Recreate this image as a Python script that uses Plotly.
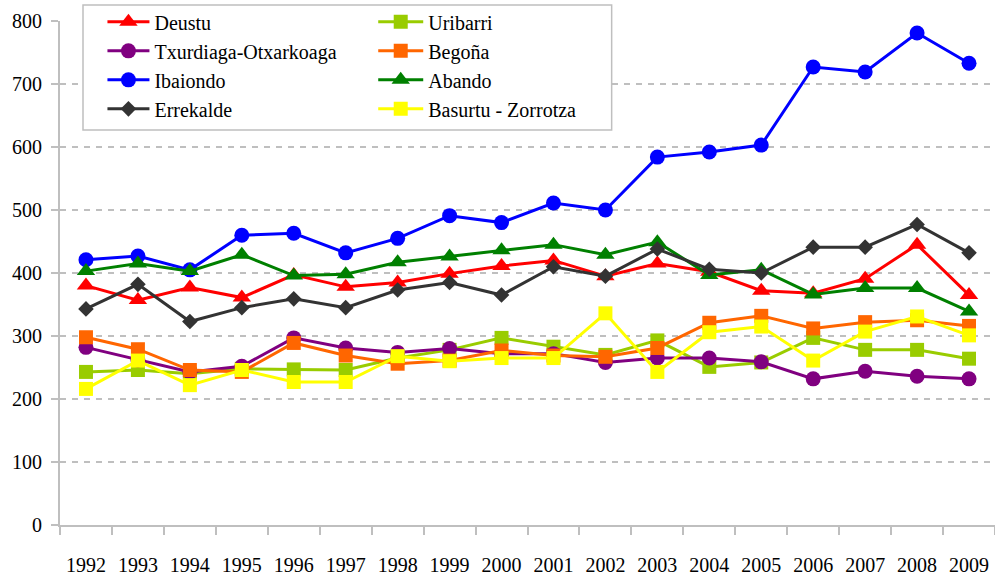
import plotly.graph_objects as go

years = [str(y) for y in range(1992, 2010)]

deustu = [380, 357, 377, 361, 397, 378, 385, 399, 411, 420, 395, 415, 402, 372, 368, 391, 445, 365]
uribarri = [243, 246, 240, 248, 247, 246, 265, 278, 297, 283, 270, 293, 251, 258, 297, 278, 278, 264]
txurdiaga = [282, 262, 243, 252, 297, 281, 274, 280, 272, 272, 258, 265, 265, 259, 232, 244, 236, 232]
begona = [298, 279, 246, 243, 289, 269, 256, 261, 277, 269, 267, 281, 321, 332, 312, 322, 325, 316]
ibaiondo = [421, 427, 405, 460, 463, 432, 455, 491, 480, 511, 500, 584, 592, 603, 727, 719, 781, 733]
abando = [403, 415, 403, 429, 396, 398, 417, 426, 436, 445, 429, 449, 397, 405, 366, 376, 376, 339]
errekalde = [343, 382, 323, 345, 359, 345, 373, 385, 365, 410, 395, 438, 406, 400, 441, 441, 477, 432]
basurtu = [216, 261, 222, 246, 227, 227, 268, 260, 265, 265, 336, 243, 306, 315, 261, 307, 331, 301]

series = [
    ("Deustu", deustu, "#FF0000", "triangle-up", 16, "legend"),
    ("Uribarri", uribarri, "#99CC00", "square", 14, "legend2"),
    ("Txurdiaga-Otxarkoaga", txurdiaga, "#800080", "circle", 15, "legend"),
    ("Begoña", begona, "#FF6600", "square", 14, "legend2"),
    ("Ibaiondo", ibaiondo, "#0000FF", "circle", 15, "legend"),
    ("Abando", abando, "#008000", "triangle-up", 16, "legend2"),
    ("Errekalde", errekalde, "#333333", "diamond", 12, "legend"),
    ("Basurtu - Zorrotza", basurtu, "#FFFF00", "square", 14, "legend2"),
]

FONT = "Liberation Serif, Times New Roman, serif"
fig = go.Figure()
for name, vals, color, sym, size, leg in series:
    fig.add_trace(go.Scatter(
        x=years, y=vals, name=name, mode="lines+markers",
        line=dict(color=color, width=3),
        marker=dict(color=color, symbol=sym, size=size),
        legend=leg, legendgroup=name,
    ))

legend_common = dict(
    xanchor="left", yanchor="top", bgcolor="rgba(0,0,0,0)", borderwidth=0,
    font=dict(family=FONT, size=20, color="black"), tracegroupgap=0,
    orientation="v",
)

fig.update_layout(
    width=995, height=575,
    margin=dict(l=60, r=0, t=21, b=50, autoexpand=False),
    paper_bgcolor="white", plot_bgcolor="white",
    font=dict(family=FONT, size=20, color="black"),
    showlegend=True,
    legend=dict(x=0.0454, y=1.037, itemwidth=42, **legend_common),
    legend2=dict(x=0.335, y=1.037, itemwidth=45, **legend_common),
    xaxis=dict(
        type="category", tickson="boundaries", ticks="outside", ticklen=8,
        range=[-0.5, len(years) - 0.5],
        tickcolor="#BFBFBF", tickwidth=1.5, showgrid=False, tickangle=0,
        showline=True, linecolor="#BFBFBF", linewidth=2,
        tickfont=dict(family=FONT, size=20, color="black"),
        ticklabelstandoff=21, automargin=False,
    ),
    yaxis=dict(
        range=[0, 800], tickvals=[0, 100, 200, 300, 400, 500, 600, 700, 800],
        ticks="outside", ticklen=7, tickcolor="#BFBFBF", tickwidth=1.5,
        showgrid=True, gridcolor="#BFBFBF", griddash="6px,6px", gridwidth=1.5,
        showline=True, linecolor="#BFBFBF", linewidth=2, zeroline=False,
        tickfont=dict(family=FONT, size=20, color="black"),
        ticklabelstandoff=5, automargin=False,
    ),
    shapes=[dict(
        type="rect", xref="paper", yref="paper",
        x0=0.0246, x1=0.590, y0=0.7837, y1=1.0317,
        line=dict(color="#BFBFBF", width=1.5), fillcolor="white", layer="above",
    )],
)

fig.write_html("out.html", config={"displayModeBar": False},
               post_script="document.body.style.margin='0';")
